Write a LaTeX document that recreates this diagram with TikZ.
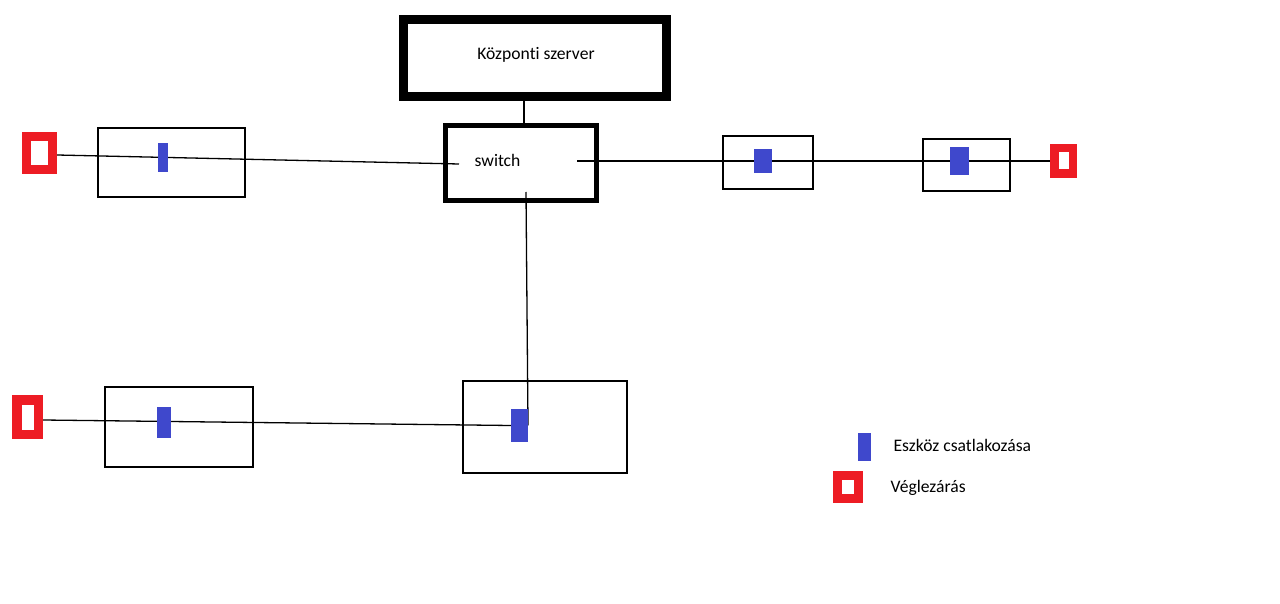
\documentclass[tikz,border=0pt]{standalone}
\usepackage{fontspec}
\setmainfont[Ligatures=NoCommon]{Carlito}
\usetikzlibrary{backgrounds}

\definecolor{portblue}{RGB}{63,72,204}
\definecolor{capred}{RGB}{237,28,36}

\begin{document}
\begin{tikzpicture}[
  x=1pt, y=-1pt,
  every node/.style={inner sep=0pt, font=\fontsize{17.6}{20}\selectfont},
  every path/.style={line width=1.3pt},
  box/.style={draw, rectangle, line width=1.4pt},
  port/.style={fill=portblue, rectangle, line width=0pt},
  endcap/.style={draw=capred, fill=white, rectangle, line width=9pt},
  label/.style={anchor=west},
]
\useasboundingbox (0,0) rectangle (1280,604);

  % Nodes
  \node[box, line width=9pt, minimum width=263pt, minimum height=77pt] (server) at (535,58) {};
  \node (servertext) at (536,55) {Központi szerver};
  \node[box, line width=5pt, minimum width=151pt, minimum height=75pt] (switch) at (521,163) {};
  \node[label] (switchtext) at (474,160) {switch};

  \node[box, minimum width=147pt, minimum height=69pt] (box1) at (171.5,162.5) {};
  \node[box, minimum width=90pt, minimum height=53pt]  (box2) at (768,162.5) {};
  \node[box, minimum width=87pt, minimum height=52pt]  (box3) at (966.5,165) {};
  \node[box, minimum width=148pt, minimum height=80pt] (box4) at (179,427) {};
  \node[box, minimum width=164pt, minimum height=92pt] (box5) at (545,427) {};

  \node[port, minimum width=10pt, minimum height=29pt] (port1) at (163,157.5) {};
  \node[port, minimum width=18pt, minimum height=24pt] (port2) at (763,161) {};
  \node[port, minimum width=19pt, minimum height=28pt] (port3) at (959.5,161) {};
  \node[port, minimum width=14pt, minimum height=31pt] (port4) at (164,422.5) {};
  \node[port, minimum width=17pt, minimum height=33pt] (port5) at (519.5,425.5) {};

  \node[endcap, minimum width=26pt, minimum height=33pt] (end1) at (39.5,153) {};
  \node[endcap, line width=8.5pt, minimum width=18.5pt, minimum height=25.5pt] (end2) at (1063.5,161) {};
  \node[endcap, line width=9.5pt, minimum width=21.5pt, minimum height=34.5pt] (end3) at (27.5,417) {};

  % Legend
  \node[port, minimum width=13pt, minimum height=28pt] (legport) at (864.5,447) {};
  \node[label] (legporttext) at (893,445) {Eszköz csatlakozása};
  \node[endcap, minimum width=21pt, minimum height=23pt] (legend) at (848,487) {};
  \node[label] (legendtext) at (890,488) {Véglezárás};

  \coordinate (swleft) at (459,164);
  \coordinate (swright) at (577,161);
  \coordinate (swbottom) at (526,192);

  % Edges
  \begin{scope}[on background layer]
  \draw ([xshift=3pt]switch.north) -- ([xshift=3pt]switch.north |- server.south);
  \draw ([yshift=-2pt]end1.east) -- (swleft);
  \draw (swright) -- (end2.west);
  \draw (swbottom) -- (port5.east);
  \draw ([yshift=-3pt]end3.east) -- (port5.west);
  \end{scope}

\end{tikzpicture}
\end{document}
